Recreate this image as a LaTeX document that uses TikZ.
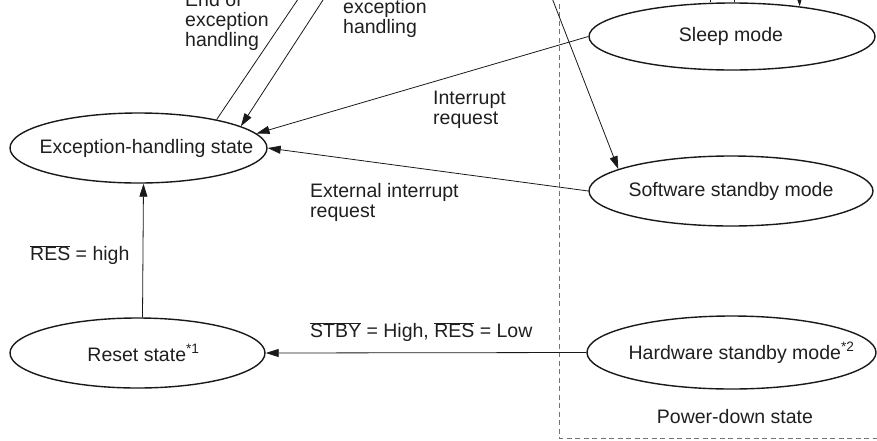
\documentclass[tikz,border=0pt]{standalone}
\usepackage{fontspec}
\setmainfont{Liberation Sans}
\usetikzlibrary{shapes.geometric,arrows.meta}
\newcommand\ovl[1]{$\overline{\mbox{#1}}$}
\begin{document}
\begin{tikzpicture}[x=1pt,y=-1pt,
  every node/.style={font=\fontsize{19.5}{20}\selectfont, text=black!88},
  st/.style={ellipse, draw=black!90, line width=1.4pt, inner sep=0},
  lbl/.style={inner sep=0, anchor=west, align=left},
  arr/.style={draw=black!90, line width=0.8pt, -{Triangle[length=13pt,width=8pt]}},
  ln/.style={draw=black!90, line width=0.8pt},
  dash line/.style={draw=black!55, line width=0.8pt, dash pattern=on 5pt off 3.5pt}]
\useasboundingbox (0,0) rectangle (877,440);
\clip (0,0) rectangle (877,440);

% states
\node[st, minimum width=257pt, minimum height=70pt,
  label={[xshift=8pt]center:Exception-handling state}] (exc) at (138.5,148) {};
\node[st, minimum width=255pt, minimum height=70pt,
  label={[xshift=6pt]center:Reset state\textsuperscript{*1}}] (reset) at (137.5,353) {};
\node[st, minimum width=286pt, minimum height=67pt,
  label={[xshift=-1pt]center:Sleep mode}] (sleep) at (732,36.5) {};
\node[st, minimum width=284pt, minimum height=70pt,
  label={center:Software standby mode}] (sw) at (731,191) {};
\node[st, minimum width=289pt, minimum height=73pt,
  label={[xshift=10pt]center:Hardware standby mode\textsuperscript{*2}}] (hw) at (731.5,352.5) {};

% power-down boundary
\draw[dash line] (559,-5) -- (559,438) -- (880,438);

% connectors
\draw[arr] ([xshift=5pt]reset.north) -- ([xshift=5pt]exc.south);
\draw[arr] (hw.west) -- (reset.east);
\draw[arr] (sw.west) -- (exc.east);
\draw[arr] (sleep.west) -- (exc.7);

\coordinate (t1) at (311,-20);
\coordinate (t2) at (336,-20);
\coordinate (t3) at (545,-20);
\coordinate (t4) at (798,-30);
\coordinate (t5) at (710,-30);
\coordinate (t6) at (734,-30);
\draw[ln] (exc.20) -- (t1);
\draw[arr] (t2) -- (exc.12);
\draw[arr] (t3) -- (sw.169);
\draw[arr] (t4) -- (sleep.24);
\draw[ln] (t5) -- (t5 |- sleep.north);
\draw[ln] (t6) -- (t6 |- sleep.north);

% labels
\node[lbl] (lend) at (185,21) {End of\\exception\\handling};
\node[lbl] (lreq) at (343,18) {exception\\handling};
\node[lbl] (lint) at (433,110) {Interrupt\\request};
\node[lbl] (lext) at (310,202) {External interrupt\\request};
\node[lbl] (lres) at (30,255) {\ovl{RES} = high};
\node[lbl] (lstby) at (310,332) {\ovl{STBY} = High, \ovl{RES} = Low};
\node (lpd) at (735,417) {Power-down state};
\end{tikzpicture}
\end{document}
